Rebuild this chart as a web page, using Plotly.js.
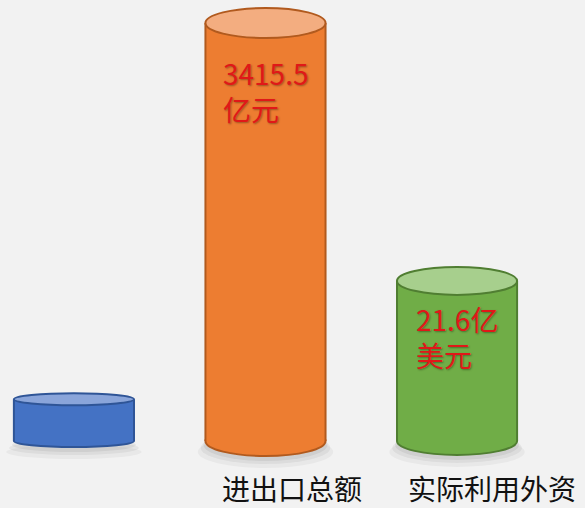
<!DOCTYPE html>
<html>
<head>
<meta charset="utf-8">
<script src="https://cdn.plot.ly/plotly-3.0.1.min.js"></script>
<style>
  html, body { margin: 0; padding: 0; background: #f2f2f2; }
  #chart { width: 585px; height: 508px; }
</style>
</head>
<body>
<div id="chart"></div>
<script>
// ---- data ----
const categories = ["", "进出口总额", "实际利用外资"];
const heights = [10, 100, 38.3];          // relative cylinder heights as drawn
const valueLabels = ["", "3415.5<br>亿元", "21.6亿<br>美元"];

// ---- styles ----
const bodyColors = ["#4472C4", "#ED7D31", "#70AD47"];
const topColors = ["#8AA5DA", "#F3AD80", "#A7CF8D"];
const edgeColors = ["#2F5597", "#B15A1E", "#507E32"];
const capRadius = [6, 15, 14];           // pixel half-height of ellipses
const labelShift = [0, -28, -16];
const barWidth = 0.627;

const xs = categories.map((c, i) => i);

const shapes = [];
xs.forEach((x, i) => {
  const r = capRadius[i];
  // soft shadow
  [[0.04, 12, 0.04], [0.05, 8, 0.025], [0.06, 5, 0.01]].forEach(s => {
    shapes.push({
      type: 'circle', layer: 'below', xref: 'x', yref: 'y',
      x0: x - barWidth / 2 - s[2], x1: x + barWidth / 2 + s[2],
      ysizemode: 'pixel', yanchor: 0, y0: -r - s[1], y1: r - s[1] + 2,
      fillcolor: 'rgba(0,0,0,' + s[0] + ')', line: { width: 0 }
    });
  });
  // bottom cap
  shapes.push({
    type: 'circle', layer: 'below', xref: 'x', yref: 'y',
    x0: x - barWidth / 2, x1: x + barWidth / 2,
    ysizemode: 'pixel', yanchor: 0, y0: -r, y1: r,
    fillcolor: bodyColors[i], line: { color: edgeColors[i], width: 2 }
  });
  // side edges
  [-1, 1].forEach(sgn => {
    shapes.push({
      type: 'line', layer: 'above', xref: 'x', yref: 'y',
      x0: x + sgn * barWidth / 2, x1: x + sgn * barWidth / 2,
      y0: 0, y1: heights[i],
      line: { color: edgeColors[i], width: 2 }
    });
  });
  // top cap
  shapes.push({
    type: 'circle', layer: 'above', xref: 'x', yref: 'y',
    x0: x - barWidth / 2, x1: x + barWidth / 2,
    ysizemode: 'pixel', yanchor: heights[i], y0: -r, y1: r,
    fillcolor: topColors[i], line: { color: edgeColors[i], width: 2 }
  });
});

const annotations = [];
xs.forEach((x, i) => {
  if (valueLabels[i]) {
    annotations.push({
      x: x, y: heights[i], xref: 'x', yref: 'y',
      xanchor: 'center', yanchor: 'top', yshift: labelShift[i],
      align: 'left', showarrow: false, text: valueLabels[i],
      font: { family: 'Noto Sans CJK SC', size: 28, color: '#E01818',
              shadow: '1px 1px 2px rgba(0,0,0,0.35)' }
    });
  }
});
const catShift = [0, 27, 35];
xs.forEach((x, i) => {
  if (categories[i]) {
    annotations.push({
      x: x, y: 0, xref: 'x', yref: 'y',
      xanchor: 'center', yanchor: 'middle', xshift: catShift[i], yshift: -47,
      showarrow: false, text: categories[i],
      font: { family: 'Noto Sans CJK SC', size: 28, color: '#111111' }
    });
  }
});

const trace = {
  type: 'bar', x: xs, y: heights, width: barWidth,
  marker: { color: bodyColors, line: { width: 0 } },
  hoverinfo: 'skip'
};

const layout = {
  width: 585, height: 508,
  margin: { l: 0, r: 0, t: 0, b: 0 },
  paper_bgcolor: '#f2f2f2', plot_bgcolor: '#f2f2f2',
  showlegend: false,
  xaxis: { range: [-0.386, 2.668], visible: false, fixedrange: true },
  yaxis: { range: [-16.03, 105.5], visible: false, fixedrange: true },
  shapes: shapes,
  annotations: annotations,
  hovermode: false
};

Plotly.newPlot('chart', [trace], layout, { displayModeBar: false, staticPlot: true });
</script>
</body>
</html>
